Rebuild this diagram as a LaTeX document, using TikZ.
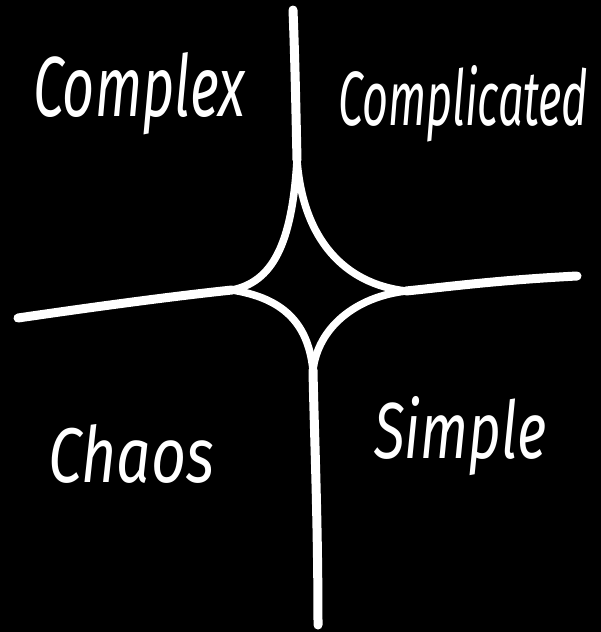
\documentclass[tikz,border=0pt]{standalone}
\usepackage{fontspec}
\setmainfont{Fira Sans}
\usepackage{graphicx}
\begin{document}
\begin{tikzpicture}[x=1pt,y=-1pt,
  arm/.style={draw=white,line width=9pt,line cap=round,line join=round},
  cusp/.style={draw=white,line width=7.5pt,line cap=round},
  label/.style={text=white,inner sep=0pt,anchor=base west,font=\itshape}]
\fill[black] (0,0) rectangle (601,632);
\useasboundingbox (0,0) rectangle (601,632);
% centre points of the star
\coordinate (T) at (297,160);
\coordinate (L) at (232,290);
\coordinate (R) at (406,291);
\coordinate (B) at (313,370);
% free ends of the arms
\coordinate (Tend) at (293,10);
\coordinate (Lend) at (18,318);
\coordinate (Rend) at (577,276);
\coordinate (Bend) at (318,625);
% arms
\draw[arm] (Tend) .. controls (295,60) and (296,115) .. (T);
\draw[arm] (Lend) .. controls (100,306) and (175,296) .. (L);
\draw[arm] (Rend) .. controls (500,280) and (455,286) .. (R);
\draw[arm] (Bend) .. controls (318,520) and (314,425) .. (B);
% concave sides of the star
\draw[cusp] (T) .. controls (292,245) and (272,282) .. (L);
\draw[cusp] (T) .. controls (303,240) and (345,284) .. (R);
\draw[cusp] (L) .. controls (282,298) and (308,322) .. (B);
\draw[cusp] (R) .. controls (355,297) and (318,328) .. (B);
% labels
\node[label] (complex) at (33,116) {\resizebox{212pt}{64pt}{Complex}};
\node[label] (complicated) at (338,125) {\resizebox{250pt}{60pt}{Complicated}};
\node[label] (chaos) at (48,482) {\resizebox{166pt}{58pt}{Chaos}};
\node[label] (simple) at (374,458) {\resizebox{172pt}{62pt}{Simple}};
\end{tikzpicture}
\end{document}
